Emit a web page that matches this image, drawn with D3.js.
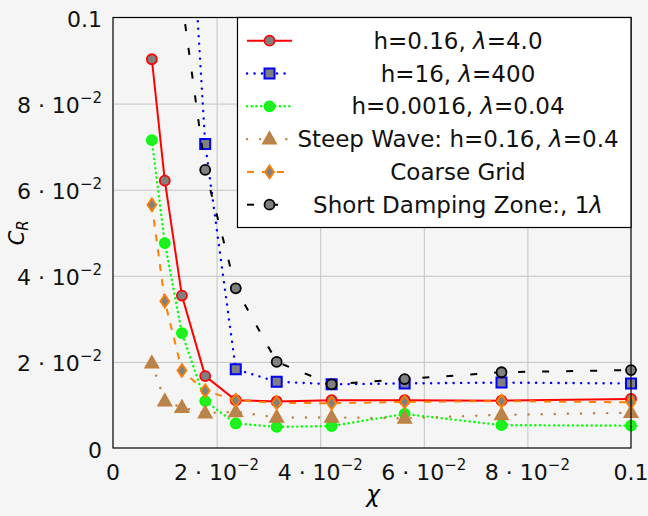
<!DOCTYPE html>
<html>
<head>
<meta charset="utf-8">
<script src="https://cdn.jsdelivr.net/npm/d3@7"></script>
<style>
  body { margin: 0; background: #f5f5f5; }
  svg { font-family: "DejaVu Sans", sans-serif; }
</style>
</head>
<body>
<svg id="chart" width="648" height="516"></svg>
<script>
// chi values of the runs
var xVals = [0.0075, 0.01, 0.0133, 0.0178, 0.0237, 0.0316, 0.0422, 0.0563, 0.075, 0.1];
var xLate = [0.0133, 0.0178, 0.0237, 0.0316, 0.0422, 0.0563, 0.075, 0.1];

var redVals    = [0.0903, 0.0621, 0.0354, 0.0167, 0.0111, 0.0108, 0.0111, 0.0111, 0.0110, 0.0114];
var blueVals   = [0.16, 0.0706, 0.0183, 0.0154, 0.0148, 0.0150, 0.0152, 0.0150];
var greenVals  = [0.0715, 0.0476, 0.0267, 0.0109, 0.0057, 0.0049, 0.0051, 0.0079, 0.0053, 0.0052];
var brownVals  = [0.0197, 0.0109, 0.0094, 0.0081, 0.0084, 0.0071, 0.0071, 0.0069, 0.0077, 0.0082];
var orangeVals = [0.0565, 0.0341, 0.0180, 0.0133, 0.0111, 0.0105, 0.0104, 0.0107, 0.0109, 0.0106];
var blackVals  = [0.104, 0.0646, 0.0371, 0.0200, 0.0148, 0.0160, 0.0176, 0.0181];

var tickVals = [0, 0.02, 0.04, 0.06, 0.08, 0.1];
var tickMant = ["0", "2", "4", "6", "8", "0.1"];

var series = [
  { label: ["h=0.16, ", "λ", "=4.0"], xs: xVals, ys: redVals, color: "#ff0000", dash: null, width: 2, mark: "circle", fill: "#808080" },
  { label: ["h=16, ", "λ", "=400"], xs: xLate, ys: blueVals, color: "#0000ff", dash: "0.1,7.4", width: 2.4, mark: "square", fill: "#808080" },
  { label: ["h=0.0016, ", "λ", "=0.04"], xs: xVals, ys: greenVals, color: "#00ff00", dash: "0.1,4.6", width: 2.4, mark: "circle", fill: "#22ee22" },
  { label: ["Steep Wave: h=0.16, ", "λ", "=0.4"], xs: xVals, ys: brownVals, color: "#bf8040", dash: "0.1,13", width: 2.4, mark: "triangle", fill: "#b88450" },
  { label: ["Coarse Grid", "", ""], xs: xVals, ys: orangeVals, color: "#ff8000", dash: "7,8", width: 2, mark: "diamond", fill: "#808080" },
  { label: ["Short Damping Zone:, 1", "λ", ""], xs: xLate, ys: blackVals, color: "#000000", dash: "7,17", width: 2, mark: "circle", fill: "#808080" }
];

var margin = { top: 17.5, right: 17, bottom: 68, left: 113 };
var W = 648, H = 516;

var svg = d3.select("#chart");

var x = d3.scaleLinear().domain([0, 0.1]).range([margin.left, W - margin.right]);
var y = d3.scaleLinear().domain([0, 0.1]).range([H - margin.bottom, margin.top]);

svg.append("clipPath").attr("id", "plotclip")
  .append("rect")
    .attr("x", x(0)).attr("y", y(0.1))
    .attr("width", x(0.1) - x(0)).attr("height", y(0) - y(0.1));

// grid
svg.append("g")
    .attr("transform", `translate(0,${y(0)})`)
    .call(d3.axisBottom(x).tickValues(tickVals.slice(1, -1)).tickSize(-(y(0) - y(0.1))).tickFormat(""))
    .call(g => g.select(".domain").remove())
    .call(g => g.selectAll("line").attr("stroke", "#c4c4c4").attr("stroke-width", 1));
svg.append("g")
    .attr("transform", `translate(${x(0)},0)`)
    .call(d3.axisLeft(y).tickValues(tickVals.slice(1, -1)).tickSize(-(x(0.1) - x(0))).tickFormat(""))
    .call(g => g.select(".domain").remove())
    .call(g => g.selectAll("line").attr("stroke", "#c4c4c4").attr("stroke-width", 1));

function tickLabel(sel, i) {
  if (i === 0 || i === 5) { sel.append("tspan").text(tickMant[i]); return; }
  sel.append("tspan").text(tickMant[i] + " · 10");
  sel.append("tspan").attr("dy", -10).attr("font-size", 15).text("−2");
}

// x tick labels
svg.append("g").selectAll("text")
  .data(tickVals)
  .join("text")
    .attr("x", d => x(d))
    .attr("y", 480)
    .attr("text-anchor", "middle")
    .attr("font-size", 22)
    .attr("fill", "#111")
    .each(function(d, i) { tickLabel(d3.select(this), i); });

// y tick labels
svg.append("g").selectAll("text")
  .data(tickVals)
  .join("text")
    .attr("x", 102)
    .attr("y", d => y(d) + 9.5)
    .attr("text-anchor", "end")
    .attr("font-size", 22)
    .attr("fill", "#111")
    .each(function(d, i) { tickLabel(d3.select(this), i); });

// axis labels
svg.append("text")
    .attr("x", x(0.05) + 1).attr("y", 502)
    .attr("text-anchor", "middle").attr("font-size", 23).attr("font-style", "italic")
    .text("χ");
var yl = svg.append("text")
    .attr("transform", `translate(24,${(y(0) + y(0.1)) / 2}) rotate(-90)`)
    .attr("text-anchor", "middle").attr("font-size", 21).attr("font-style", "italic");
yl.append("tspan").text("C");
yl.append("tspan").attr("font-size", 15).attr("dy", 4).text("R");

function markPath(type) {
  if (type === "circle") return d3.symbol().type(d3.symbolCircle).size(Math.PI * 25)();
  if (type === "square") return "M-5,-5H5V5H-5Z";
  if (type === "triangle") return "M0,-7L6.5,4.5L-6.5,4.5Z";
  return "M0,-6.5L4.5,0L0,6.5L-4.5,0Z";
}

function drawMark(g, s, px, py) {
  g.append("path")
    .attr("d", markPath(s.mark))
    .attr("transform", `translate(${px},${py})`)
    .attr("fill", s.fill)
    .attr("stroke", s.color)
    .attr("stroke-width", s.mark === "square" ? 2 : 1.8);
}

var line = d3.line().x(d => x(d[0])).y(d => y(d[1]));

series.forEach(function(s) {
  var pts = s.xs.map((v, i) => [v, s.ys[i]]);
  var g = svg.append("g");
  g.append("path")
    .datum(pts)
    .attr("clip-path", "url(#plotclip)")
    .attr("d", line)
    .attr("fill", "none")
    .attr("stroke", s.color)
    .attr("stroke-width", s.width)
    .attr("stroke-linecap", s.dash && s.dash.indexOf("0.1") === 0 ? "round" : "butt")
    .attr("stroke-dasharray", s.dash);
  pts.filter(p => p[1] <= 0.1).forEach(p => drawMark(g, s, x(p[0]), y(p[1])));
});

// frame
svg.append("rect")
    .attr("x", x(0)).attr("y", y(0.1))
    .attr("width", x(0.1) - x(0)).attr("height", y(0) - y(0.1))
    .attr("fill", "none").attr("stroke", "#000").attr("stroke-width", 1.2);

// legend
var lg = svg.append("g");
var lx0 = 237.5, lx1 = x(0.1), ly0 = y(0.1), ly1 = 227.5;
lg.append("rect")
    .attr("x", lx0).attr("y", ly0).attr("width", lx1 - lx0).attr("height", ly1 - ly0)
    .attr("fill", "#ffffff").attr("stroke", "#000").attr("stroke-width", 1.2);

var rowY = d3.scaleLinear().domain([0, 5]).range([40.7, 204.7]);
series.forEach(function(s, i) {
  var cy = rowY(i);
  lg.append("path")
    .attr("d", `M247,${cy}H292`)
    .attr("stroke", s.color)
    .attr("stroke-width", s.width)
    .attr("stroke-linecap", s.dash && s.dash.indexOf("0.1") === 0 ? "round" : "butt")
    .attr("stroke-dasharray", s.dash);
  drawMark(lg, s, 269.5, cy);
  var t = lg.append("text")
    .attr("x", 458).attr("y", cy + 8)
    .attr("text-anchor", "middle").attr("font-size", 23).attr("fill", "#111");
  t.append("tspan").text(s.label[0]);
  if (s.label[1]) t.append("tspan").attr("font-style", "italic").text(s.label[1]);
  if (s.label[2]) t.append("tspan").text(s.label[2]);
});
</script>
</body>
</html>
